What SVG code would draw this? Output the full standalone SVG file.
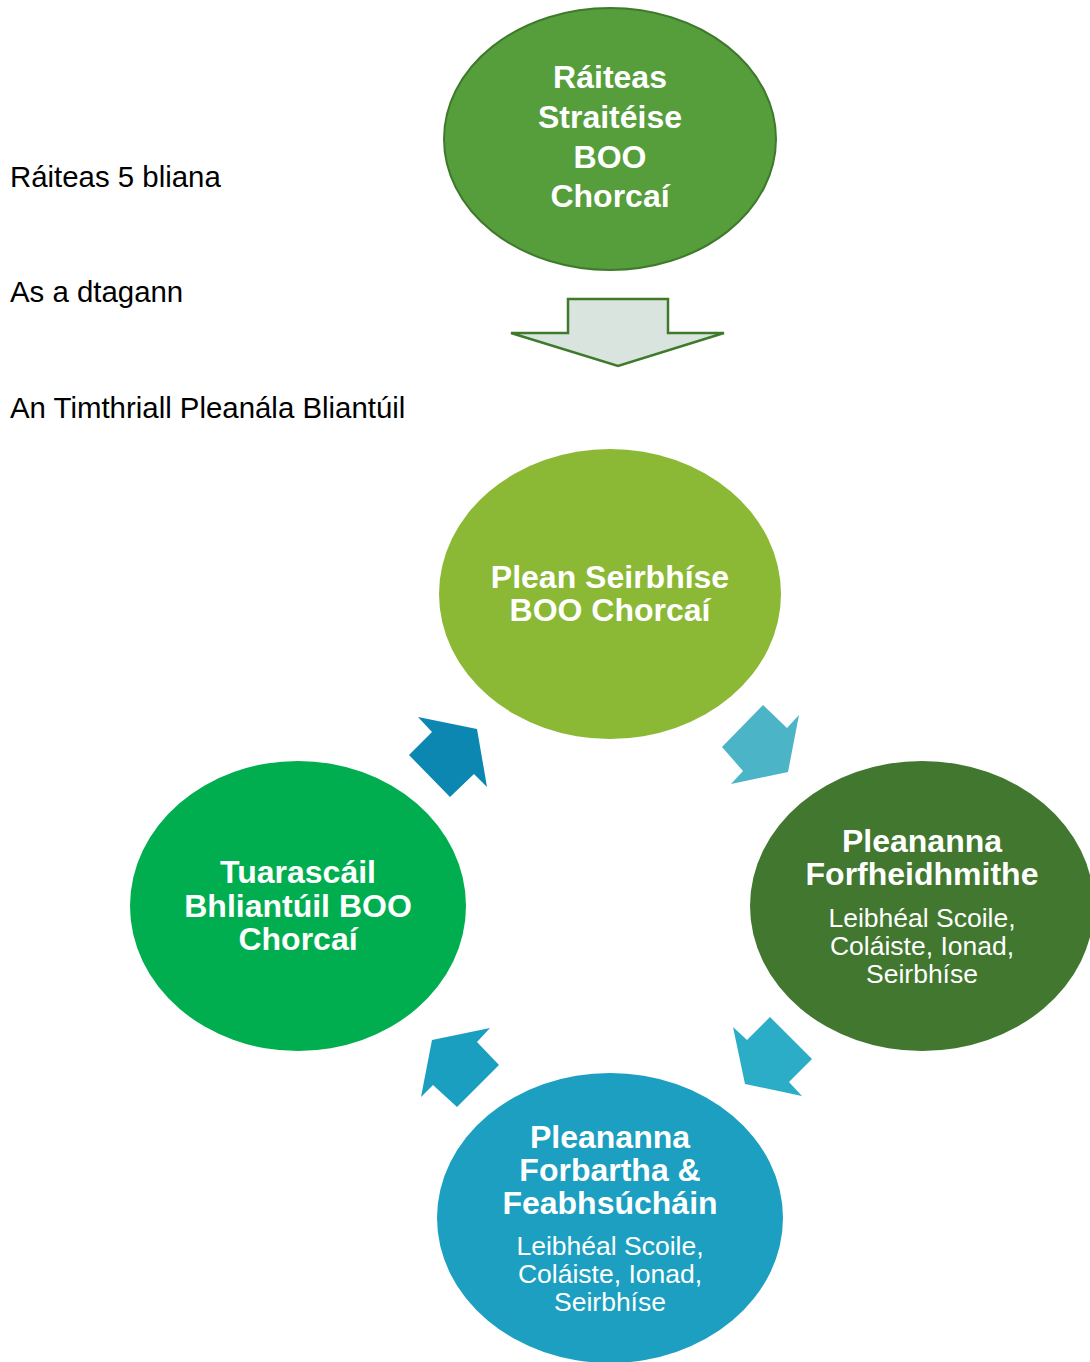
<svg xmlns="http://www.w3.org/2000/svg" width="1090" height="1362" viewBox="0 0 1090 1362">
<style>
.lbl{font-family:"Liberation Sans",Arial,sans-serif;font-size:29.4px;fill:#000}
.t{font-family:"Liberation Sans",Arial,sans-serif;font-weight:bold;font-size:32px;fill:#fff;text-anchor:middle}
.s{font-family:"Liberation Sans",Arial,sans-serif;font-size:26.5px;fill:#fff;text-anchor:middle}
</style>
<rect width="1090" height="1362" fill="#fff"/>
<g id="labels">
<text class="lbl" x="10" y="187">Ráiteas 5 bliana</text>
<text class="lbl" x="10" y="302">As a dtagann</text>
<text class="lbl" x="10" y="418">An Timthriall Pleanála Bliantúil</text>
</g>
<g id="node-strategy">
<ellipse cx="610" cy="139" rx="166" ry="131" fill="#559E3B" stroke="#3F7A2C" stroke-width="2"/>
<text class="t" x="610" y="88">Ráiteas</text>
<text class="t" x="610" y="128">Straitéise</text>
<text class="t" x="610" y="168">BOO</text>
<text class="t" x="610" y="207">Chorcaí</text>
</g>
<g id="connectors">
<polygon points="568,299 668,299 668,333 724,333 618,366 511,333 568,333" fill="#D9E4DE" stroke="#3E7A2A" stroke-width="2.5" stroke-linejoin="miter"/>
<polygon points="763,705 787,728 799,715 788,772 731,784 743,771 722,747" fill="#4BB4C6"/>
<polygon points="733,1027 747,1040 770,1017 812,1059 789,1082 802,1096 745,1084" fill="#2CADC7"/>
<polygon points="490,1028 477,1042 499,1065 457,1107 433,1085 421,1097 432,1040" fill="#1B9FC1"/>
<polygon points="418,717 477,729 487,787 474,774 450,797 409,755 432,732" fill="#0B87B2"/>
</g>
<g id="node-service-plan">
<ellipse cx="610" cy="594" rx="171" ry="145" fill="#8BB935"/>
<text class="t" x="610" y="588">Plean Seirbhíse</text>
<text class="t" x="610" y="621">BOO Chorcaí</text>
</g>
<g id="node-implemented">
<ellipse cx="922" cy="906" rx="172" ry="145" fill="#41772E"/>
<text class="t" x="922" y="852">Pleananna</text>
<text class="t" x="922" y="885">Forfheidhmithe</text>
<text class="s" x="922" y="927">Leibhéal Scoile,</text>
<text class="s" x="922" y="955">Coláiste, Ionad,</text>
<text class="s" x="922" y="983">Seirbhíse</text>
</g>
<g id="node-development">
<ellipse cx="610" cy="1218" rx="173" ry="145" fill="#1C9FC0"/>
<text class="t" x="610" y="1148">Pleananna</text>
<text class="t" x="610" y="1181">Forbartha &amp;</text>
<text class="t" x="610" y="1214">Feabhsúcháin</text>
<text class="s" x="610" y="1255">Leibhéal Scoile,</text>
<text class="s" x="610" y="1283">Coláiste, Ionad,</text>
<text class="s" x="610" y="1311">Seirbhíse</text>
</g>
<g id="node-annual-report">
<ellipse cx="298" cy="906" rx="168" ry="145" fill="#00AE4F"/>
<text class="t" x="298" y="883">Tuarascáil</text>
<text class="t" x="298" y="917">Bhliantúil BOO</text>
<text class="t" x="298" y="950">Chorcaí</text>
</g>
</svg>
